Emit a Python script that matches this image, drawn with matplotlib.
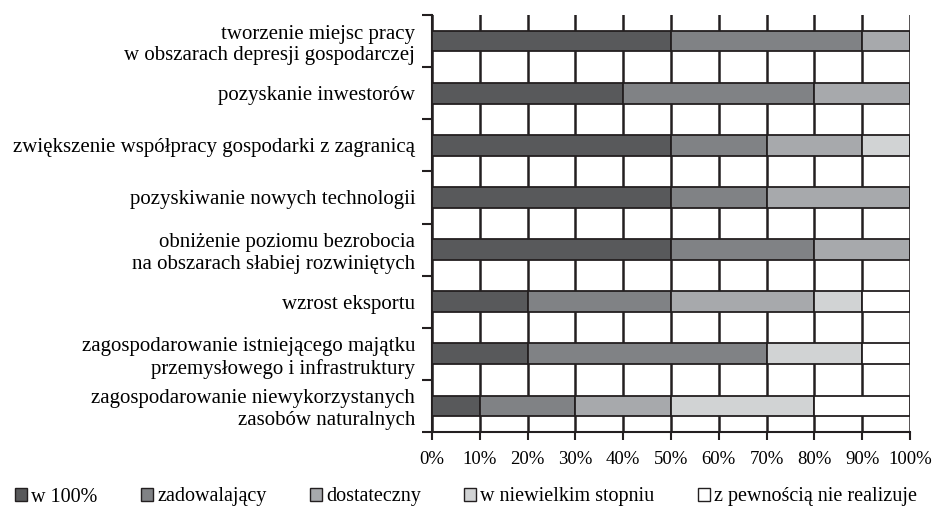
import numpy as np
import matplotlib.pyplot as plt
from matplotlib.patches import Patch

plt.rcParams['font.family'] = ['Liberation Serif', 'DejaVu Serif']

# Categories (top to bottom) and series shares in percent
categories = [
    'tworzenie miejsc pracy\nw obszarach depresji gospodarczej',
    'pozyskanie inwestorów',
    'zwiększenie współpracy gospodarki z zagranicą',
    'pozyskiwanie nowych technologii',
    'obniżenie poziomu bezrobocia\nna obszarach słabiej rozwiniętych',
    'wzrost eksportu',
    'zagospodarowanie istniejącego majątku\nprzemysłowego i infrastruktury',
    'zagospodarowanie niewykorzystanych\nzasobów naturalnych',
]
series_names = ['w 100%', 'zadowalający', 'dostateczny',
                'w niewielkim stopniu', 'z pewnością nie realizuje']
w100 = [50, 40, 50, 50, 50, 20, 20, 10]
zadowalajacy = [40, 40, 20, 20, 30, 30, 50, 20]
dostateczny = [10, 20, 20, 30, 20, 30, 0, 20]
niewielki = [0, 0, 10, 0, 0, 10, 20, 30]
nie_realizuje = [0, 0, 0, 0, 0, 10, 10, 20]
x_ticks = [0, 10, 20, 30, 40, 50, 60, 70, 80, 90, 100]

colors = ['#58595b', '#808285', '#a7a9ac', '#d1d3d4', '#ffffff']
edge = '#231f20'

fig = plt.figure(figsize=(9.32, 5.14), dpi=100)
ax = fig.add_axes([432 / 932, 1 - 432 / 514, 478 / 932, 417 / 514])

n = len(categories)
ypos = np.arange(n)[::-1] + 0.5
left = np.zeros(n)
for vals, col, name in zip([w100, zadowalajacy, dostateczny, niewielki, nie_realizuje],
                           colors, series_names):
    v = np.array(vals, dtype=float)
    ax.barh(ypos, v, left=left, height=0.4, color=col, edgecolor=edge,
            linewidth=1.3, label=name, zorder=3)
    left += v

ax.set_xlim(0, 100)
ax.set_ylim(0, n)
ax.set_xticks(x_ticks)
ax.set_xticklabels([f'{t}%' for t in x_ticks], fontsize=13.5)
ax.xaxis.grid(True, color=edge, linewidth=1.8, zorder=0)
ax.tick_params(axis='x', length=6, width=1.5, color=edge, pad=8)

ax.set_yticks(ypos)
ax.set_yticklabels(categories, fontsize=15, multialignment='right')
ax.set_yticks(np.arange(n + 1), minor=True)
ax.tick_params(axis='y', which='major', length=0, pad=12)
ax.tick_params(axis='y', which='minor', length=7, width=1.5, color=edge)

for s in ['top', 'right']:
    ax.spines[s].set_visible(False)
for s in ['left', 'bottom']:
    ax.spines[s].set_color(edge)
    ax.spines[s].set_linewidth(1.5)

handles = [Patch(facecolor=c, edgecolor=edge, label=nm) for c, nm in zip(colors, series_names)]
fig.legend(handles=handles, loc='center', bbox_to_anchor=(0.5, 1 - 497 / 514),
           ncol=5, frameon=False, fontsize=14.5, handlelength=0.6, handleheight=0.6,
           handletextpad=0.2, columnspacing=2.15)

fig.savefig('out.png', dpi=100)
